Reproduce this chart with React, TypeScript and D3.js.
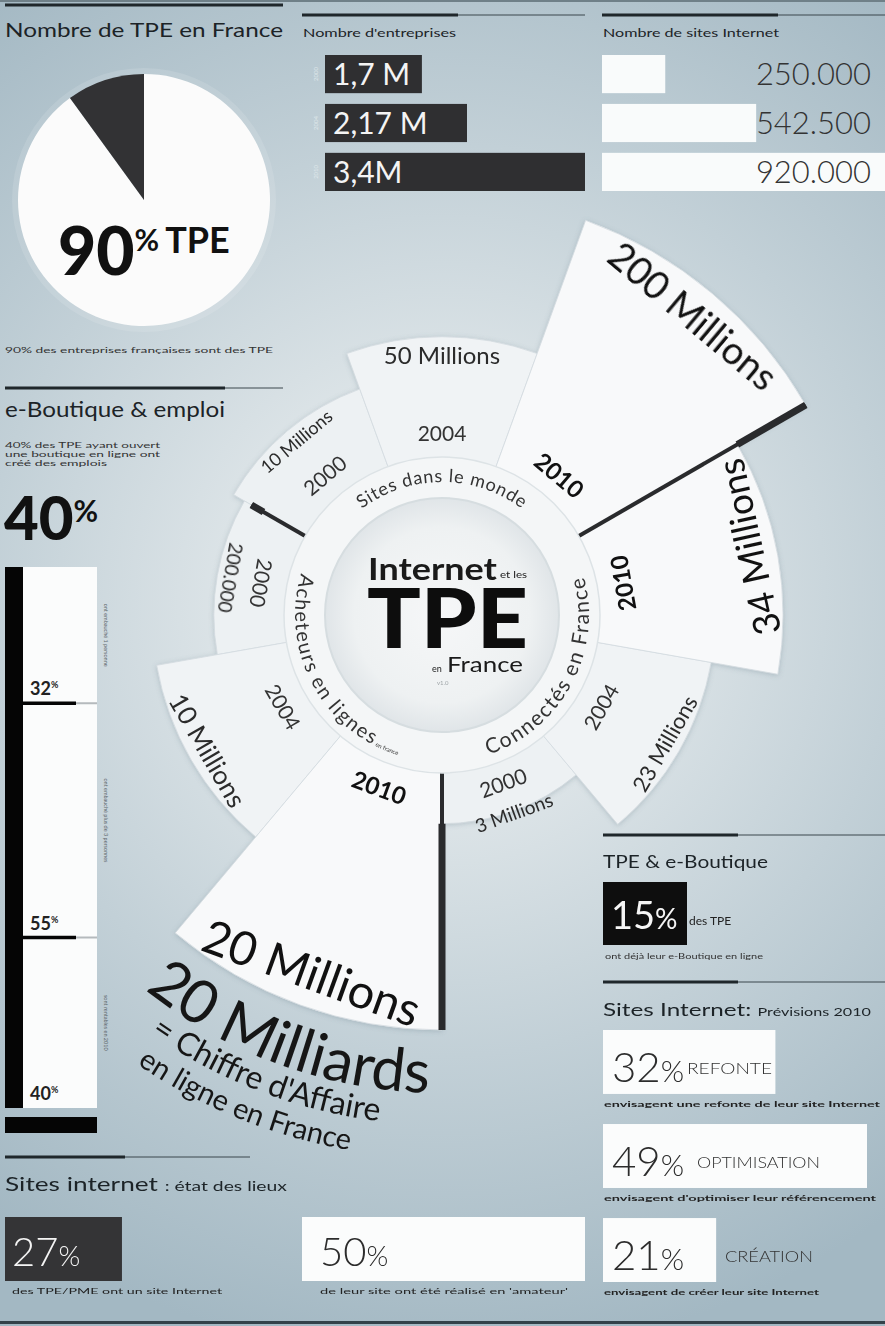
import React from "react";
import * as d3 from "d3";

const W = 885;
const H = 1326;

// ---------- DATA ----------
const pieCategories = ["TPE", "Autres"];
const pieValues = [90, 10];

const years = ["2000", "2004", "2010"];
const entrepriseValues = [1.7, 2.17, 3.4];
const entrepriseLabels = ["1,7 M", "2,17 M", "3,4M"];
const sitesFranceValues = [250000, 542500, 920000];
const sitesFranceLabels = ["250.000", "542.500", "920.000"];

const emploiValues = [32, 55, 40];
const emploiLabels = ["32", "55", "40"];
const emploiCaptions = ["ont embauché 1 personne", "ont embauché plus de 3 personnes", "sont rentables en 2010"];

const radialGroups = ["Sites dans le monde", "Connectés en France", "Acheteurs en lignes"];
const sitesMondeValues = [10, 50, 200];
const sitesMondeLabels = ["10 Millions", "50 Millions", "200 Millions"];
const connectesValues = [3, 23, 34];
const connectesLabels = ["3 Millions", "23 Millions", "34 Millions"];
const acheteursValues = [0.2, 10, 20];
const acheteursLabels = ["200.000", "10 Millions", "20 Millions"];

const boutiqueValue = 15;
const previsionValues = [32, 49, 21];
const previsionLabels = ["REFONTE", "OPTIMISATION", "CRÉATION"];
const previsionCaptions = [
  "envisagent une refonte de leur site Internet",
  "envisagent d'optimiser leur référencement",
  "envisagent de créer leur site Internet",
];
const etatValues = [27, 50];
const etatCaptions = ["des TPE/PME ont un site Internet", "de leur site ont été réalisé en 'amateur'"];

// ---------- STYLE / HELPERS ----------
const FONT = "Lato, 'Open Sans', 'DejaVu Sans', sans-serif";
const CX = 442;
const CY = 615;
const DEG = Math.PI / 180;
// label font size per group (rows) and year (cols)
const VALUE_FONT = [
  [18, 24, 38],
  [19, 22, 37],
  [19, 26, 47],
];

function polar(r: number, a: number): [number, number] {
  return [CX + r * Math.sin(a * DEG), CY - r * Math.cos(a * DEG)];
}
function arcPath(r: number, a0: number, a1: number) {
  const [x0, y0] = polar(r, a0);
  const [x1, y1] = polar(r, a1);
  const sweep = a1 > a0 ? 1 : 0;
  const large = Math.abs(a1 - a0) > 180 ? 1 : 0;
  return `M${x0},${y0} A${r},${r} 0 ${large} ${sweep} ${x1},${y1}`;
}

function Header({ x, y, thick, thin }: { x: number; y: number; thick: number; thin: number }) {
  return (
    <g>
      <line x1={x} x2={x + thin} y1={y} y2={y} stroke="#3a464c" strokeWidth={1} />
      <line x1={x} x2={x + thick} y1={y} y2={y} stroke="#1f272b" strokeWidth={3} />
    </g>
  );
}

export default function App() {
  // pie
  const pieGen = d3.pie<number>().sort(null);
  const pieArcs = pieGen(pieValues);
  const pieArc = d3.arc<d3.PieArcDatum<number>>().innerRadius(0).outerRadius(126);

  // top bars
  const yBand = d3.scaleBand<string>().domain(years).range([55, 191]).paddingInner(0.22);
  const xEnt = d3.scaleLinear().domain([0.69, 3.4]).range([0, 260]);
  const xSites = d3.scalePow().exponent(1.15).domain([0, 920000]).range([0, 283]);

  // emploi stack
  const emploiTotal = d3.sum(emploiValues);
  const yEmploi = d3.scaleLinear().domain([0, emploiTotal]).range([567, 1108]);
  const cum = d3.cumsum(emploiValues);

  // previsions
  const yPrev = d3.scaleBand<string>().domain(previsionLabels).range([1030, 1282]).paddingInner(0.32);
  const xPrev = d3.scaleLinear().domain([0, 49]).range([0, 264]);
  const xEtat = d3.scaleLinear().domain([10.8, 50]).range([0, 283]);

  // radial
  const slotAngle = d3.scaleLinear().domain([0, 9]).range([-60, 300]);
  const groups = [
    { name: radialGroups[0], values: sitesMondeValues, labels: sitesMondeLabels, r: d3.scaleLinear().domain([0, 200]).range([231, 420]), flip: false },
    { name: radialGroups[1], values: connectesValues, labels: connectesLabels, r: d3.scalePow().exponent(1.8).domain([0, 34]).range([207, 341]), flip: true },
    { name: radialGroups[2], values: acheteursValues, labels: acheteursLabels, r: d3.scalePow().exponent(1.6).domain([0, 20]).range([228, 415]), flip: true },
  ];
  type Sector = { g: number; i: number; a0: number; a1: number; mid: number; outer: number; label: string; year: string; flip: boolean };
  const sectors: Sector[] = [];
  groups.forEach((grp, g) => {
    years.forEach((yr, i) => {
      const pos = grp.flip ? 2 - i : i;
      const slot = g * 3 + pos;
      const a0 = slotAngle(slot);
      const a1 = slotAngle(slot + 1);
      sectors.push({ g, i, a0, a1, mid: (a0 + a1) / 2, outer: grp.r(grp.values[i]), label: grp.labels[i], year: yr, flip: grp.flip });
    });
  });
  const sectorArc = d3.arc<Sector>()
    .innerRadius(150)
    .outerRadius((d) => d.outer)
    .startAngle((d) => d.a0 * DEG)
    .endAngle((d) => d.a1 * DEG);
  const sectorFill = ["#edf1f3", "#f0f3f5", "#f8f9fa"];

  const place = (r: number, a: number, flip: boolean) => {
    const [x, y] = polar(r, a);
    return `translate(${x},${y}) rotate(${flip ? a - 180 : a})`;
  };

  // dividers: group boundaries
  const dividerAngles = [slotAngle(3), slotAngle(6), slotAngle(9)];
  const dividers = dividerAngles.map((a) => {
    const adj = sectors.filter((s) => Math.abs(s.a1 - a) < 0.01 || Math.abs(((s.a0 + 360) % 360) - ((a + 360) % 360)) < 0.01);
    const rs = adj.map((s) => s.outer);
    const rMin = d3.min(rs) as number;
    const rMax = d3.max(rs) as number;
    return { a, rMin: rMax - rMin < 30 ? rMin - 22 : rMin, rMax: rMax - rMin < 30 ? rMin - 8 : rMax };
  });

  return (
    <svg width={W} height={H} viewBox={`0 0 ${W} ${H}`} style={{ position: "absolute", left: 0, top: 0 }} fontFamily={FONT}>
      <defs>
        <radialGradient id="bg" cx={CX} cy={600} r={760} gradientUnits="userSpaceOnUse">
          <stop offset="0" stopColor="#f1f3f4" />
          <stop offset="0.25" stopColor="#dfe6e9" />
          <stop offset="0.6" stopColor="#c2d0d7" />
          <stop offset="1" stopColor="#a3b8c3" />
        </radialGradient>
        <radialGradient id="disc" cx="0.5" cy="0.5" r="0.5">
          <stop offset="0" stopColor="#f6f7f8" />
          <stop offset="0.75" stopColor="#eef1f2" />
          <stop offset="1" stopColor="#e0e5e8" />
        </radialGradient>
        <filter id="shadow" x="-20%" y="-20%" width="140%" height="140%">
          <feDropShadow dx="0" dy="1" stdDeviation="2.5" floodColor="#6f8490" floodOpacity="0.35" />
        </filter>
        <path id="tp-sites" d={arcPath(133, -89, 89)} />
        <path id="tp-conn" d={arcPath(147, 118 + 89, 118 - 89)} />
        <path id="tp-ach" d={arcPath(147, 242 + 89, 242 - 89)} />
        <path id="tp-mil1" d={arcPath(478, 200 + 89, 200 - 89)} />
        <path id="tp-mil2" d={arcPath(510, 201 + 89, 201 - 89)} />
        <path id="tp-mil3" d={arcPath(543, 202 + 89, 202 - 89)} />
      </defs>

      <rect width={W} height={H} fill="url(#bg)" />
      <rect width={W} height={2} fill="#6f8088" />
      <rect y={H - 5} width={W} height={3} fill="#33424a" />

      {/* ---------- Nombre de TPE ---------- */}
      <Header x={5} y={5} thick={278} thin={278} />
      <text x={5} y={37} fontSize={20} fill="#1c2327" textLength={278} lengthAdjust="spacingAndGlyphs">Nombre de TPE en France</text>
      <circle cx={144} cy={200} r={132} fill="#ffffff" opacity={0.12} />
      <g transform="translate(144,200)">
        {pieArcs.map((a, k) => (
          <path key={pieCategories[k]} d={pieArc(a) as string} fill={k === 0 ? "#fbfbfb" : "#323234"} />
        ))}
      </g>
      <text x={58} y={275} fill="#111" fontWeight={900}>
        <tspan fontSize={66}>{pieValues[0]}</tspan>
        <tspan fontSize={30} dy={-24} fontWeight={700}>%</tspan>
        <tspan fontSize={36} dy={2} dx={6} fontWeight={700}>{pieCategories[0]}</tspan>
      </text>
      <text x={5} y={353} fontSize={7.5} fill="#333" textLength={268} lengthAdjust="spacingAndGlyphs">90% des entreprises françaises sont des TPE</text>

      {/* ---------- Nombre d'entreprises ---------- */}
      <Header x={302} y={15} thick={156} thin={283} />
      <text x={303} y={37} fontSize={12} fill="#1c2327" textLength={153} lengthAdjust="spacingAndGlyphs">Nombre d'entreprises</text>
      {years.map((yr, k) => (
        <g key={"ent" + yr}>
          <rect x={325} y={yBand(yr)} width={xEnt(entrepriseValues[k])} height={yBand.bandwidth()} fill="#2f2f31" />
          <text x={333} y={(yBand(yr) as number) + yBand.bandwidth() - 8} fontSize={30} fill="#f4f4f4" fontWeight={400}>{entrepriseLabels[k]}</text>
          <text transform={`translate(318,${(yBand(yr) as number) + yBand.bandwidth() / 2}) rotate(-90)`} fontSize={6} fill="#dfe7ea" textAnchor="middle">{yr}</text>
        </g>
      ))}

      {/* ---------- Nombre de sites Internet ---------- */}
      <Header x={602} y={15} thick={176} thin={283} />
      <text x={603} y={37} fontSize={12} fill="#1c2327" textLength={176} lengthAdjust="spacingAndGlyphs">Nombre de sites Internet</text>
      {years.map((yr, k) => (
        <g key={"site" + yr}>
          <rect x={602} y={yBand(yr)} width={xSites(sitesFranceValues[k])} height={yBand.bandwidth()} fill="#f9fbfb" />
          <text x={871} y={(yBand(yr) as number) + yBand.bandwidth() - 8} fontSize={31} fill="#333" fontWeight={300} textAnchor="end">{sitesFranceLabels[k]}</text>
        </g>
      ))}

      {/* ---------- e-Boutique & emploi ---------- */}
      <Header x={5} y={388} thick={220} thin={278} />
      <text x={5} y={417} fontSize={21} fill="#1c2327" textLength={220} lengthAdjust="spacingAndGlyphs">e-Boutique &amp; emploi</text>
      <text x={5} y={448} fontSize={8} fill="#333" textLength={155} lengthAdjust="spacingAndGlyphs">40% des TPE ayant ouvert</text>
      <text x={5} y={457} fontSize={8} fill="#333" textLength={155} lengthAdjust="spacingAndGlyphs">une boutique en ligne ont</text>
      <text x={5} y={466} fontSize={8} fill="#333" textLength={102} lengthAdjust="spacingAndGlyphs">créé des emplois</text>
      <text x={4} y={540} fill="#111" fontWeight={900}>
        <tspan fontSize={60}>{emploiLabels[2]}</tspan>
        <tspan fontSize={30} dy={-18} fontWeight={700}>%</tspan>
      </text>
      <rect x={23} y={yEmploi(0)} width={74} height={yEmploi(emploiTotal) - yEmploi(0)} fill="#fbfcfc" />
      <rect x={5} y={yEmploi(0)} width={18} height={yEmploi(emploiTotal) - yEmploi(0)} fill="#050505" />
      <rect x={5} y={1117} width={92} height={16} fill="#050505" />
      {emploiValues.map((v, k) => {
        const y0 = k === 0 ? yEmploi(0) : yEmploi(cum[k - 1]);
        const y1 = yEmploi(cum[k]);
        return (
          <g key={"emp" + k}>
            {k < emploiValues.length - 1 && (
              <g>
                <line x1={23} x2={97} y1={y1} y2={y1} stroke="#b5babd" strokeWidth={2} />
                <line x1={23} x2={76} y1={y1} y2={y1} stroke="#050505" strokeWidth={3.5} />
              </g>
            )}
            <text x={30} y={y1 - 8} fill="#222" fontWeight={700}>
              <tspan fontSize={18}>{emploiLabels[k]}</tspan>
              <tspan fontSize={9} dy={-7}>%</tspan>
            </text>
            <text transform={`translate(104,${(y0 + y1) / 2}) rotate(90)`} fontSize={5.5} fill="#5d676c" textAnchor="middle">{emploiCaptions[k]}</text>
          </g>
        );
      })}

      {/* ---------- Radial chart ---------- */}
      <g filter="url(#shadow)">
        {sectors.map((s) => (
          <path key={`sec${s.g}-${s.i}`} d={sectorArc(s) as string} transform={`translate(${CX},${CY})`} fill={sectorFill[s.i]} stroke="#d3dbdf" strokeWidth={0.8} />
        ))}
      </g>
      {dividers.map((d, k) => {
        const [x0, y0] = polar(158, d.a);
        const [x1, y1] = polar(d.rMin, d.a);
        const [x2, y2] = polar(d.rMax, d.a);
        return (
          <g key={"div" + k}>
            <line x1={x0} y1={y0} x2={x2} y2={y2} stroke="#2a2b2d" strokeWidth={4} />
            <line x1={x1} y1={y1} x2={x2} y2={y2} stroke="#2a2b2d" strokeWidth={7} />
          </g>
        );
      })}
      <circle cx={CX} cy={CY} r={158} fill="#f4f6f7" stroke="#dde3e6" strokeWidth={1.5} />
      <circle cx={CX} cy={CY} r={117} fill="url(#disc)" stroke="#d6dde0" strokeWidth={2} />

      {sectors.map((s) => {
        const fs = VALUE_FONT[s.g][s.i];
        const big = s.i === 2;
        const rLab = Math.max(s.outer - fs * 0.75, 210);
        const aLab = s.g === 1 && s.i === 2 ? s.mid - 2.5 : s.mid;
        return (
          <g key={`lab${s.g}-${s.i}`}>
            <text transform={place(s.i === 0 && s.g === 1 ? 178 : 183, s.mid, s.flip)} fontSize={big ? 24 : 21} fontWeight={big ? 700 : 400} fill={big ? "#111" : "#333"} textAnchor="middle" dominantBaseline="central">{s.year}</text>
            <text transform={place(rLab, aLab, s.flip)} fontSize={fs} fontWeight={400} fill={big ? "#111" : "#2b2b2b"} textAnchor="middle" dominantBaseline="central">{s.label}</text>
          </g>
        );
      })}

      <text fontSize={18} fill="#333" letterSpacing={0.8}>
        <textPath href="#tp-sites" startOffset="50%" textAnchor="middle">{groups[0].name}</textPath>
      </text>
      <text fontSize={21} fill="#333" letterSpacing={1.6}>
        <textPath href="#tp-conn" startOffset="50%" textAnchor="middle">{groups[1].name}</textPath>
      </text>
      <text fontSize={20} fill="#333" letterSpacing={1.6}>
        <textPath href="#tp-ach" startOffset="50%" textAnchor="middle">
          {groups[2].name}
          <tspan fontSize={6} letterSpacing={0}> en france</tspan>
        </textPath>
      </text>

      {/* center title */}
      <text x={368} y={580} fontSize={31} fill="#1a1a1a" fontWeight={700} textLength={129} lengthAdjust="spacingAndGlyphs">Internet</text>
      <text x={500} y={578} fontSize={9} fill="#1a1a1a" textLength={27} lengthAdjust="spacingAndGlyphs">et les</text>
      <text x={367} y={648} fontSize={82} fill="#0d0d0d" fontWeight={900} textLength={161} lengthAdjust="spacingAndGlyphs">TPE</text>
      <text x={432} y={672} fontSize={9} fill="#1a1a1a">en</text>
      <text x={447} y={672} fontSize={21} fill="#1a1a1a" textLength={76} lengthAdjust="spacingAndGlyphs">France</text>
      <text x={437} y={685} fontSize={6} fill="#a0a6a9">v1.0</text>

      {/* 20 Milliards */}
      <text fontSize={60} fill="#161616">
        <textPath href="#tp-mil1" startOffset="50%" textAnchor="middle">20 Milliards</textPath>
      </text>
      <text fontSize={32} fill="#161616">
        <textPath href="#tp-mil2" startOffset="50%" textAnchor="middle">= Chiffre d'Affaire</textPath>
      </text>
      <text fontSize={29} fill="#161616">
        <textPath href="#tp-mil3" startOffset="50%" textAnchor="middle">en ligne en France</textPath>
      </text>

      {/* ---------- TPE & e-Boutique ---------- */}
      <Header x={603} y={835} thick={135} thin={282} />
      <text x={603} y={868} fontSize={17} fill="#1c2327" textLength={165} lengthAdjust="spacingAndGlyphs">TPE &amp; e-Boutique</text>
      <rect x={603} y={882} width={84} height={63} fill="#0e0e0e" />
      <text x={611} y={929} fill="#f5f5f5" fontWeight={400}>
        <tspan fontSize={38}>{boutiqueValue}</tspan>
        <tspan fontSize={28}>%</tspan>
      </text>
      <text x={689} y={925} fontSize={12} fill="#222">des TPE</text>
      <text x={605} y={959} fontSize={7.5} fill="#333" textLength={158} lengthAdjust="spacingAndGlyphs">ont déjà leur e-Boutique en ligne</text>

      {/* ---------- Prévisions ---------- */}
      <Header x={603} y={982} thick={135} thin={282} />
      <text x={603} y={1016} fill="#1c2327" textLength={268} lengthAdjust="spacingAndGlyphs">
        <tspan fontSize={18}>Sites Internet: </tspan>
        <tspan fontSize={12}>Prévisions 2010</tspan>
      </text>
      {previsionLabels.map((lab, k) => {
        const y = yPrev(lab) as number;
        const bw = yPrev.bandwidth();
        return (
          <g key={"prev" + lab}>
            <rect x={603} y={y} width={xPrev(previsionValues[k])} height={bw} fill="#fbfcfc" />
            <text x={612} y={y + bw - 12} fill="#2c2c2c" fontWeight={300}>
              <tspan fontSize={42}>{previsionValues[k]}</tspan>
              <tspan fontSize={30}>%</tspan>
            </text>
            <text x={k === 2 ? 725 : k === 1 ? 697 : 687} y={y + bw - 20} fontSize={15} fill="#333" fontWeight={300} textLength={k === 0 ? 85 : k === 1 ? 123 : 88} lengthAdjust="spacingAndGlyphs">{lab}</text>
            <text x={604} y={y + bw + 13} fontSize={8} fill="#222" fontWeight={700} textLength={k === 0 ? 276 : k === 1 ? 272 : 215} lengthAdjust="spacingAndGlyphs">{previsionCaptions[k]}</text>
          </g>
        );
      })}

      {/* ---------- Sites internet : état des lieux ---------- */}
      <Header x={5} y={1157} thick={120} thin={245} />
      <text x={5} y={1191} fill="#1c2327" textLength={282} lengthAdjust="spacingAndGlyphs">
        <tspan fontSize={19}>Sites internet </tspan>
        <tspan fontSize={14}>: état des lieux</tspan>
      </text>
      {etatValues.map((v, k) => {
        const x0 = k === 0 ? 5 : 302;
        return (
          <g key={"etat" + k}>
            <rect x={x0} y={1217} width={xEtat(v)} height={64} fill={k === 0 ? "#343436" : "#fbfcfc"} />
            <text x={x0 + (k === 0 ? 7 : 18)} y={1266} fill={k === 0 ? "#f4f4f4" : "#2c2c2c"} fontWeight={300}>
              <tspan fontSize={40}>{v}</tspan>
              <tspan fontSize={28}>%</tspan>
            </text>
            <text x={x0 + (k === 0 ? 7 : 18)} y={1294} fontSize={7.5} fill="#222" textLength={k === 0 ? 210 : 248} lengthAdjust="spacingAndGlyphs">{etatCaptions[k]}</text>
          </g>
        );
      })}
    </svg>
  );
}
